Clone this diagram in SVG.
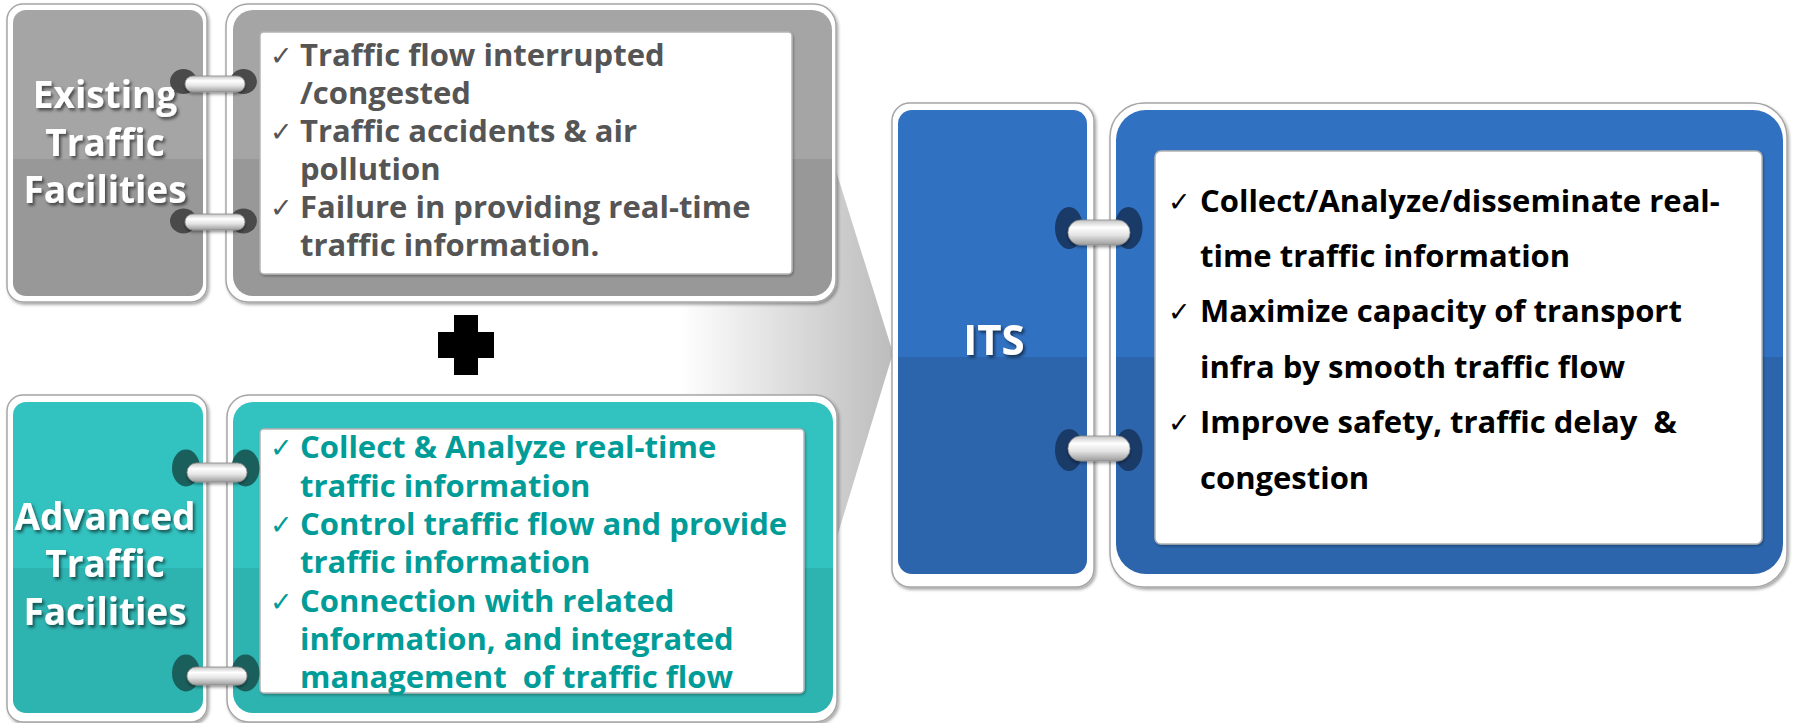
<svg xmlns="http://www.w3.org/2000/svg" width="1793" height="723" viewBox="0 0 1793 723">
<style>
.frame{fill:#ffffff;stroke:#a6a6a6;stroke-width:1.5;filter:url(#sh)}
.wbox{fill:#ffffff;stroke:#b4b4b4;stroke-width:1.5;filter:url(#inner)}
.lbl{font-family:"Open Sans","Liberation Sans",sans-serif;font-weight:bold;fill:#ffffff;text-anchor:middle;filter:url(#tsh)}
.li{font-family:"Open Sans","Liberation Sans",sans-serif;font-weight:bold}
.ck{font-family:"DejaVu Sans",sans-serif;font-weight:normal;font-size:27px}
.pill{fill:url(#gPill);stroke:#8c8c8c;stroke-width:0.8}
</style>
<defs>
<filter id="sh" x="-5%" y="-5%" width="110%" height="110%">
<feDropShadow dx="1.5" dy="2" stdDeviation="1.5" flood-color="#000" flood-opacity="0.35"/>
</filter>
<filter id="inner" x="-5%" y="-5%" width="110%" height="110%">
<feDropShadow dx="1" dy="1.5" stdDeviation="1" flood-color="#000" flood-opacity="0.3"/>
</filter>
<filter id="tsh" x="-10%" y="-20%" width="120%" height="140%">
<feDropShadow dx="2" dy="2.5" stdDeviation="1.5" flood-color="#000" flood-opacity="0.55"/>
</filter>
<filter id="psh" x="-20%" y="-40%" width="140%" height="180%">
<feDropShadow dx="0" dy="2" stdDeviation="1.5" flood-color="#000" flood-opacity="0.4"/>
</filter>
<linearGradient id="gGray" x1="0" y1="0" x2="0" y2="1">
<stop offset="0.521" stop-color="#a5a5a5"/><stop offset="0.521" stop-color="#989898"/>
</linearGradient>
<linearGradient id="gTeal" x1="0" y1="0" x2="0" y2="1">
<stop offset="0.534" stop-color="#32c2bf"/><stop offset="0.534" stop-color="#2db3b0"/>
</linearGradient>
<linearGradient id="gBlue" x1="0" y1="0" x2="0" y2="1">
<stop offset="0.532" stop-color="#3171c1"/><stop offset="0.532" stop-color="#2c65ab"/>
</linearGradient>
<linearGradient id="gPill" x1="0" y1="0" x2="0" y2="1">
<stop offset="0" stop-color="#c4c4c4"/><stop offset="0.3" stop-color="#ffffff"/><stop offset="0.6" stop-color="#e4e4e4"/><stop offset="1" stop-color="#9c9c9c"/>
</linearGradient>
<linearGradient id="gArrow" gradientUnits="userSpaceOnUse" x1="680" y1="0" x2="893" y2="0">
<stop offset="0" stop-color="#ffffff"/><stop offset="1" stop-color="#bcbcbc"/>
</linearGradient>
</defs>
<rect width="1793" height="723" fill="#ffffff"/>

<g id="connectors">
<polygon points="560,110 817,110 893,353 819,596 560,596" fill="url(#gArrow)"/>
</g>

<g id="node-existing-label">
<rect x="7" y="4" width="200" height="298" rx="16" class="frame"/>
<rect x="13" y="10" width="190" height="286" rx="13" fill="url(#gGray)"/>
<text class="lbl" font-size="37"><tspan x="105" y="108">Existing</tspan><tspan x="105" y="156">Traffic</tspan><tspan x="105" y="203">Facilities</tspan></text>
</g>

<g id="node-existing-list">
<rect x="226" y="4" width="610" height="298" rx="22" class="frame"/>
<rect x="233" y="10" width="599" height="286" rx="20" fill="url(#gGray)"/>
<rect x="260" y="32" width="532" height="242" rx="4" class="wbox"/>
<g class="li" font-size="31" fill="#555555">
<text class="ck" x="270" y="65">✓</text><text x="300" y="66">Traffic flow interrupted</text>
<text x="300" y="104">/congested</text>
<text class="ck" x="270" y="141">✓</text><text x="300" y="142">Traffic accidents &amp; air</text>
<text x="300" y="180">pollution</text>
<text class="ck" x="270" y="217">✓</text><text x="300" y="218">Failure in providing real-time</text>
<text x="300" y="256">traffic information.</text>
</g>
</g>

<g id="node-plus">
<path d="M454,315 H478 V332 H494 V358 H478 V375 H454 V358 H438 V332 H454 Z" fill="#000000"/>
</g>

<g id="node-advanced-label">
<rect x="7" y="395" width="200" height="327" rx="16" class="frame"/>
<rect x="13" y="402" width="190" height="311" rx="13" fill="url(#gTeal)"/>
<text class="lbl" font-size="37"><tspan x="105" y="530">Advanced</tspan><tspan x="105" y="577">Traffic</tspan><tspan x="105" y="625">Facilities</tspan></text>
</g>

<g id="node-advanced-list">
<rect x="227" y="395" width="610" height="327" rx="22" class="frame"/>
<rect x="233" y="402" width="600" height="311" rx="20" fill="url(#gTeal)"/>
<rect x="260" y="429" width="544" height="264" rx="4" class="wbox"/>
<g class="li" font-size="31" fill="#009c98">
<text class="ck" x="270" y="457">✓</text><text x="300" y="458">Collect &amp; Analyze real-time</text>
<text x="300" y="497">traffic information</text>
<text class="ck" x="270" y="534">✓</text><text x="300" y="535">Control traffic flow and provide</text>
<text x="300" y="573">traffic information</text>
<text class="ck" x="270" y="611">✓</text><text x="300" y="612">Connection with related</text>
<text x="300" y="650">information, and integrated</text>
<text x="300" y="688" xml:space="preserve">management  of traffic flow</text>
</g>
</g>

<g id="node-its-label">
<rect x="892" y="103" width="202" height="484" rx="18" class="frame"/>
<rect x="898" y="110" width="189" height="464" rx="14" fill="url(#gBlue)"/>
<text class="lbl" font-size="42" x="994" y="355">ITS</text>
</g>

<g id="node-its-list">
<rect x="1110" y="103" width="677" height="484" rx="34" class="frame"/>
<rect x="1116" y="110" width="667" height="464" rx="30" fill="url(#gBlue)"/>
<rect x="1155" y="151" width="607" height="393" rx="6" class="wbox"/>
<g class="li" font-size="31" fill="#000000">
<text class="ck" x="1168" y="211">✓</text><text x="1200" y="212">Collect/Analyze/disseminate real-</text>
<text x="1200" y="267">time traffic information</text>
<text class="ck" x="1168" y="321">✓</text><text x="1200" y="322">Maximize capacity of transport</text>
<text x="1200" y="378">infra by smooth traffic flow</text>
<text class="ck" x="1168" y="432">✓</text><text x="1200" y="433" xml:space="preserve">Improve safety, traffic delay  &amp;</text>
<text x="1200" y="489">congestion</text>
</g>
</g>

<g id="rings">
<g fill="#4a4a4a">
<ellipse cx="183.5" cy="81.5" rx="13.5" ry="12.5"/><ellipse cx="243.5" cy="81.5" rx="13.5" ry="12.5"/>
<ellipse cx="183.5" cy="221" rx="13.5" ry="12.5"/><ellipse cx="243.5" cy="221" rx="13.5" ry="12.5"/>
</g>
<g fill="#1b5f5c">
<ellipse cx="186" cy="468" rx="14" ry="18.5"/><ellipse cx="245.5" cy="468" rx="14" ry="18.5"/>
<ellipse cx="186" cy="673" rx="14" ry="18.5"/><ellipse cx="245.5" cy="673" rx="14" ry="18.5"/>
</g>
<g fill="#1a3a68">
<ellipse cx="1069" cy="228" rx="14" ry="21"/><ellipse cx="1128.5" cy="228" rx="14" ry="21"/>
<ellipse cx="1069" cy="450" rx="14" ry="21"/><ellipse cx="1128.5" cy="450" rx="14" ry="21"/>
</g>
<g filter="url(#psh)">
<rect x="185" y="76" width="60" height="16" rx="8" class="pill"/>
<rect x="185" y="214" width="60" height="16" rx="8" class="pill"/>
<rect x="187" y="463" width="60" height="19" rx="9.5" class="pill"/>
<rect x="187" y="667" width="60" height="18" rx="9" class="pill"/>
<rect x="1068" y="220" width="62" height="25" rx="12.5" class="pill"/>
<rect x="1068" y="436" width="62" height="25" rx="12.5" class="pill"/>
</g>
</g>
</svg>
